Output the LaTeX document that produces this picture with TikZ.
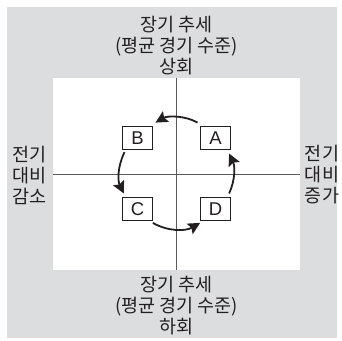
\documentclass[tikz,border=0pt]{standalone}
\usepackage{fontspec}
\setmainfont{Noto Sans CJK KR}
\newfontfamily\letterfont{Liberation Sans}
\usetikzlibrary{arrows.meta,positioning}
\definecolor{ink}{HTML}{231F20}
\definecolor{panel}{HTML}{DCDDDF}
\definecolor{axis}{HTML}{5A5A5A}

\begin{document}
\begin{tikzpicture}[x=1pt,y=1pt,
  font=\fontsize{18.5}{21}\selectfont,text=ink,
  plane/.style={fill=white,minimum width=247pt,minimum height=192pt,inner sep=0pt},
  quad/.style={draw=ink,line width=0.8pt,minimum width=30pt,minimum height=23pt,inner sep=0pt,
               font=\letterfont\fontsize{18.5}{21}\selectfont},
  lbl/.style={align=center,inner sep=0pt},
  ax/.style={draw=axis,line width=0.9pt},
  cyc/.style={-{Stealth[length=12pt,width=12pt,inset=2pt]},line width=1.8pt,draw=ink,
              shorten <=4pt,shorten >=4pt}]

\useasboundingbox (-176.5,-166) rectangle (165.5,174);
\fill[panel] (-169.5,-164) rectangle (160.5,167);

% quadrant plane
\node[plane] (plane) at (0,0) {};
\draw[ax] (plane.west) -- (plane.east);
\draw[ax] (plane.north) -- (plane.south);

\node[quad] (A) at (39,36)   {A};
\node[quad] (B) at (-39,36)  {B};
\node[quad] (C) at (-39,-35) {C};
\node[quad] (D) at (39,-35)  {D};

\draw[cyc,shorten <=7pt,shorten >=7pt] (A.135) to[bend right=30] (B.45);
\draw[cyc,shorten <=2.5pt] (B.-135) to[bend right=26] (C.135);
\draw[cyc] (C.-45) to[bend right=30] (D.-135);
\draw[cyc] (D.45) to[bend right=25] (A.-45);

% axis labels
\node[lbl] (up)    at (0,128)     {장기 추세\\(평균 경기 수준)\\상회};
\node[lbl] (down)  at (0,-132)    {장기 추세\\(평균 경기 수준)\\하회};
\node[lbl] (left)  at (-146.5,-1) {전기\\대비\\감소};
\node[lbl] (right) at (145.5,-1)  {전기\\대비\\증가};
\end{tikzpicture}
\end{document}
